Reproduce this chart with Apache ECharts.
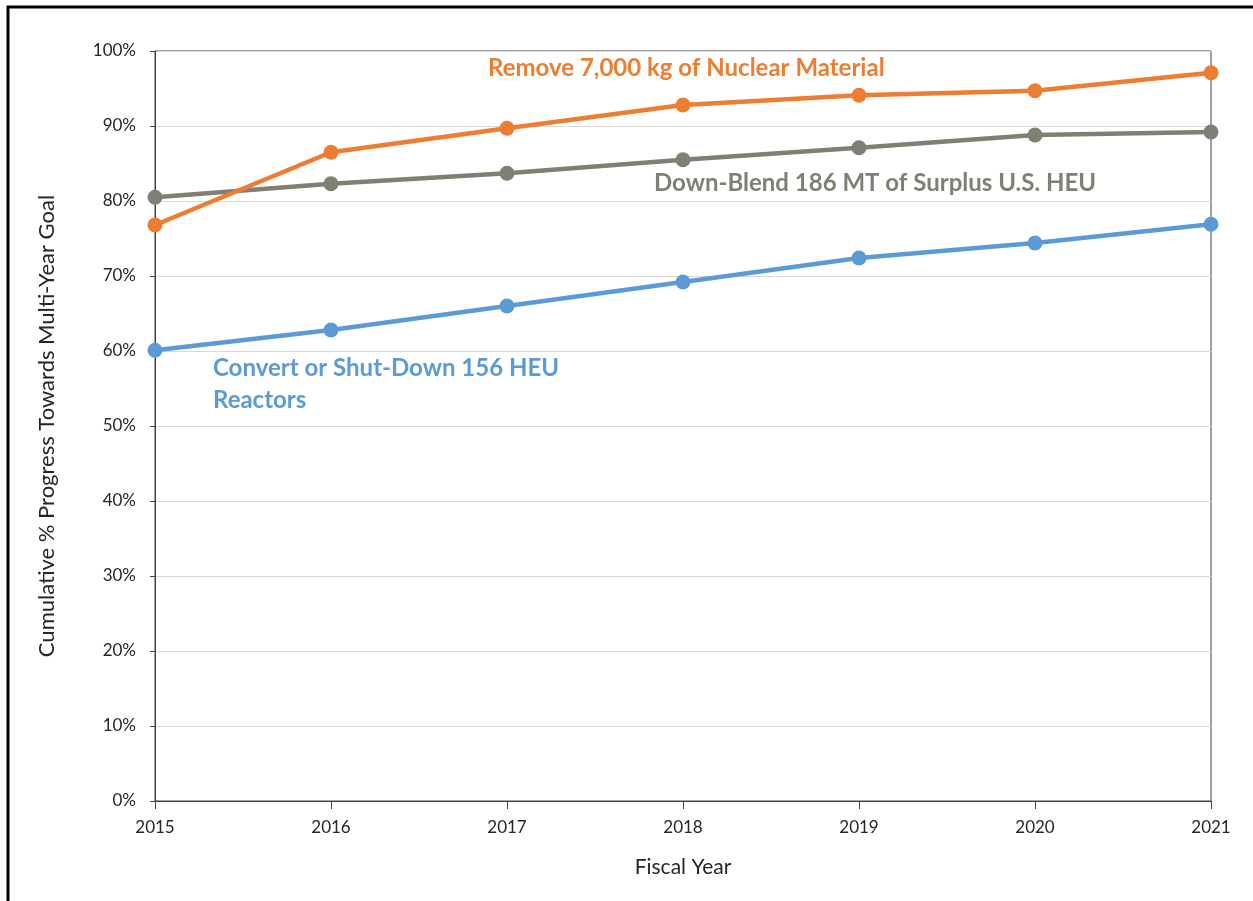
<!DOCTYPE html>
<html>
<head>
<meta charset="utf-8">
<style>
  html, body { margin: 0; padding: 0; background: #fff; }
  #chart { width: 1253px; height: 901px; }
</style>
<script src="https://cdn.jsdelivr.net/npm/echarts@6/dist/echarts.min.js"></script>
</head>
<body>
<div id="chart"></div>
<script>
// Fiscal years on the horizontal axis
const years = ['2015', '2016', '2017', '2018', '2019', '2020', '2021'];

// Cumulative % progress towards each multi-year goal
const removeMaterial = [76.8, 86.5, 89.7, 92.8, 94.1, 94.7, 97.1];
const downBlend = [80.5, 82.3, 83.7, 85.5, 87.1, 88.8, 89.2];
const convertReactors = [60.1, 62.8, 66.0, 69.2, 72.4, 74.4, 76.9];

// Series labels written inside the plot
const labelRemove = 'Remove 7,000 kg of Nuclear Material';
const labelBlend = 'Down-Blend 186 MT of Surplus U.S. HEU';
const labelConvert = ['Convert or Shut-Down 156 HEU', 'Reactors'];

const FONT = 'Lato, "Open Sans", sans-serif';
const ORANGE = '#ED7D31';
const GRAY = '#7F7F74';
const BLUE = '#5B9BD5';
const AXIS = '#404040';
const TEXT = '#262626';

const chart = echarts.init(document.getElementById('chart'));

function lineSeries(name, data, color) {
  return {
    name: name,
    type: 'line',
    data: data,
    symbol: 'circle',
    symbolSize: 15,
    lineStyle: { color: color, width: 4.5 },
    itemStyle: { color: color },
    emphasis: { disabled: true },
    z: 3
  };
}

chart.setOption({
  animation: false,
  backgroundColor: '#fff',
  textStyle: { fontFamily: FONT },
  grid: {
    left: 155, right: 42, top: 51, bottom: 100,
    show: true, borderColor: AXIS, borderWidth: 1
  },
  xAxis: {
    type: 'category',
    data: years,
    boundaryGap: false,
    name: 'Fiscal Year',
    nameLocation: 'middle',
    nameGap: 56,
    nameTextStyle: { color: TEXT, fontSize: 21, fontFamily: FONT },
    axisLine: { lineStyle: { color: AXIS, width: 1 } },
    axisTick: { show: true, length: 8, lineStyle: { color: AXIS } },
    axisLabel: { color: TEXT, fontSize: 17, margin: 18, fontFamily: FONT },
    splitLine: { show: false }
  },
  yAxis: {
    type: 'value',
    min: 0, max: 100, interval: 10,
    name: 'Cumulative % Progress Towards Multi-Year Goal',
    nameLocation: 'middle',
    nameRotate: 90,
    nameGap: 97,
    nameTextStyle: { color: TEXT, fontSize: 22, fontFamily: FONT },
    axisLine: { show: true, lineStyle: { color: AXIS, width: 1 } },
    axisTick: { show: true, length: 5, lineStyle: { color: AXIS } },
    axisLabel: { color: TEXT, fontSize: 17, margin: 19, fontFamily: FONT, formatter: '{value}%' },
    splitLine: { show: true, lineStyle: { color: '#D9D9D9', width: 1 } }
  },
  series: [
    lineSeries('convert', convertReactors, BLUE),
    lineSeries('blend', downBlend, GRAY),
    lineSeries('remove', removeMaterial, ORANGE)
  ],
  graphic: [
    // outer frame (left and top edges)
    { type: 'polyline', shape: { points: [[8, 901], [8, 7], [1253, 7]] },
      style: { stroke: '#000', lineWidth: 3, fill: null }, silent: true },
    { type: 'text', left: 488, top: 56,
      style: { text: labelRemove, fill: ORANGE, font: 'bold 24px ' + FONT } },
    { type: 'text', left: 654, top: 171,
      style: { text: labelBlend, fill: GRAY, font: 'bold 24px ' + FONT } },
    { type: 'text', left: 213, top: 352,
      style: { text: labelConvert.join('\n'), fill: BLUE, font: 'bold 24px ' + FONT, lineHeight: 32 } }
  ]
});
</script>
</body>
</html>
